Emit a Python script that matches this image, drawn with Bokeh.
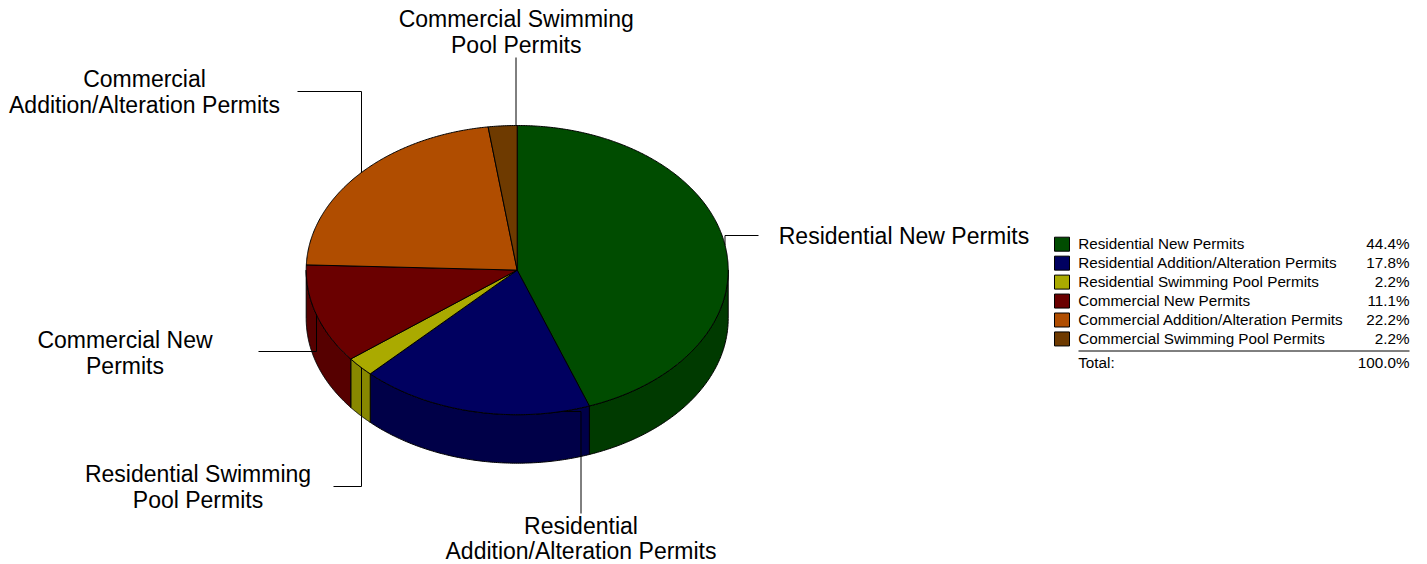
import numpy as np
from bokeh.plotting import figure
from bokeh.core.properties import value
from bokeh.embed import file_html
from bokeh.resources import INLINE

categories = ["Residential New Permits", "Residential Addition/Alteration Permits",
              "Residential Swimming Pool Permits", "Commercial New Permits",
              "Commercial Addition/Alteration Permits", "Commercial Swimming Pool Permits"]
shares = [44.4, 17.8, 2.2, 11.1, 22.2, 2.2]
share_labels = ["44.4%", "17.8%", "2.2%", "11.1%", "22.2%", "2.2%"]
total_label = "100.0%"
top_colors = ["#004c00", "#000060", "#aaaa00", "#6a0000", "#b04d00", "#6e3a00"]
side_colors = ["#003a00", "#000048", "#888800", "#560000", "#8c3e00", "#582e00"]
callout_lines = [["Residential New Permits"], ["Residential", "Addition/Alteration Permits"],
                 ["Residential Swimming", "Pool Permits"], ["Commercial New", "Permits"],
                 ["Commercial", "Addition/Alteration Permits"], ["Commercial Swimming", "Pool Permits"]]

# layout (picture pixels)
W, H = 1420, 564
CX, CY, RX, RY, DEPTH = 516.7, 269.6, 211.0, 144.6, 48.5
FONT = value("Liberation Sans")

p = figure(width=W, height=H, x_range=(0, W), y_range=(H, 0),
           toolbar_location=None, output_backend="svg", min_border=0,
           outline_line_color=None, background_fill_color="white")
p.axis.visible = False
p.grid.visible = False

def pt(a, dy=0.0):
    a = np.asarray(a, dtype=float)
    return CX + RX * np.sin(a), CY - RY * np.cos(a) + dy

v = np.array(shares, dtype=float)
edges = np.concatenate([[0.0], np.cumsum(v)]) / v.sum() * 2 * np.pi

# side walls (only the front half of the cylinder shows)
for i in range(len(v)):
    a0, a1 = max(edges[i], np.pi / 2), min(edges[i + 1], 3 * np.pi / 2)
    if a1 <= a0:
        continue
    t = np.linspace(a0, a1, 120)
    x1, y1 = pt(t)
    x2, y2 = pt(t[::-1], DEPTH)
    p.patch(np.r_[x1, x2], np.r_[y1, y2], fill_color=side_colors[i],
            line_color="black", line_width=1)

# leader lines: from each slice's middle on the rim, out to its label
mids = (edges[:-1] + edges[1:]) / 2
mx, my = pt(mids)
leader_paths = [
    ([mx[0], mx[0], 758], [my[0], 235, 235]),
    ([mx[1], 580.5, 580.5], [my[1], my[1], 513]),
    ([mx[2], 361, 361, 333], [my[2], my[2], 486, 486]),
    ([mx[3], 316, 316, 258], [my[3], my[3], 351, 351]),
    ([mx[4], 361, 361, 297], [my[4], my[4], 91, 91]),
    ([515.5, 515.5], [my[5] + 2, 57]),
]
for xs, ys in leader_paths:
    p.line(xs, ys, line_color="black", line_width=1)

# top face
for i in range(len(v)):
    t = np.linspace(edges[i], edges[i + 1], max(8, int(v[i] * 8)))
    x, y = pt(t)
    p.patch(np.r_[CX, x], np.r_[CY, y], fill_color=top_colors[i],
            line_color="black", line_width=1)

# callouts
callout_pos = [(903.5, [235]), (580.5, [525, 550.5]), (197.5, [473, 499]),
               (124.5, [339, 365]), (144, [78, 104]), (515.7, [18.5, 44])]
for lines, (cx, ys) in zip(callout_lines, callout_pos):
    p.text([cx] * len(lines), ys, text=lines, text_font=FONT, text_font_size="23px",
           text_color="black", text_align="center", text_baseline="middle")

# legend
LEG_Y0, LEG_STEP = 243.7, 18.95
ly = [LEG_Y0 + i * LEG_STEP for i in range(len(categories))]
p.quad(left=[1054] * 6, right=[1069] * 6,
       top=[y - 7 for y in ly], bottom=[y + 7 for y in ly],
       fill_color=top_colors, line_color="black", line_width=1)
FS = "15.25px"
tx = [y - 0.8 for y in ly]
p.text([1077.7] * 6, tx, text=categories, text_font=FONT, text_font_size=FS,
       text_color="black", text_align="left", text_baseline="middle")
p.text([1409] * 6, tx, text=share_labels, text_font=FONT, text_font_size=FS,
       text_color="black", text_align="right", text_baseline="middle")
p.line([1078, 1409], [350.5, 350.5], line_color="black", line_width=1)
p.text([1077.7], [361.8], text=["Total:"], text_font=FONT, text_font_size=FS,
       text_color="black", text_align="left", text_baseline="middle")
p.text([1409], [361.8], text=[total_label], text_font=FONT, text_font_size=FS,
       text_color="black", text_align="right", text_baseline="middle")

open("out.html", "w").write(file_html(p, INLINE))
